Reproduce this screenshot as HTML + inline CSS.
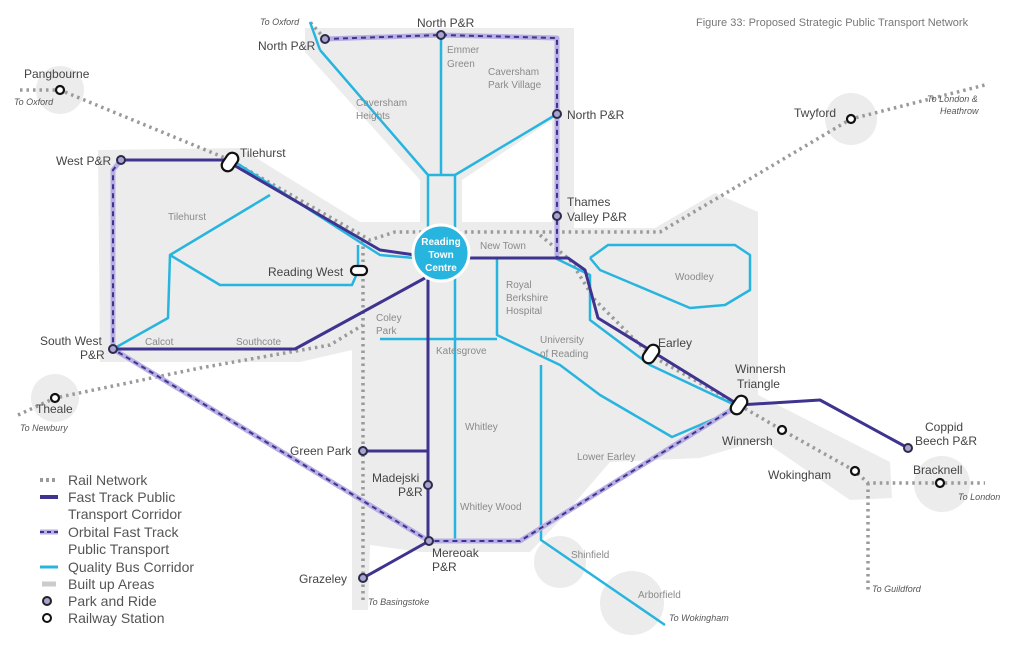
<!DOCTYPE html>
<html><head><meta charset="utf-8"><style>
html,body{margin:0;padding:0;background:#fff;}
svg{display:block;font-family:"Liberation Sans",sans-serif;}
.l{fill:#8a8a8a;font-size:10px;}
.s{fill:#444;font-size:12px;}
.i{fill:#555;font-size:9px;font-style:italic;}
.cy{stroke:#27b5df;stroke-width:2.5;fill:none;stroke-linejoin:round;}
.fp{stroke:#3e338f;stroke-width:3;fill:none;stroke-linejoin:round;}
.ob1{stroke:#b7aee3;stroke-width:5;fill:none;stroke-linejoin:round;}
.ob2{stroke:#3e338f;stroke-width:2;stroke-dasharray:5 4;fill:none;}
.rl{stroke:#9a9a9a;stroke-width:3.5;stroke-dasharray:2.5 4;fill:none;}
.ga{fill:#ececec;}
</style></head><body>
<svg width="1024" height="649" viewBox="0 0 1024 649">
<!-- built up areas -->
<g class="ga">
<path d="M305,28 L574,28 L574,228 L655,228 L715,193 L758,212 L758,395 L890,462 L892,498 L850,500 L762,440 L700,458 L610,462 L560,520 L530,552 L420,552 L370,545 L368,610 L352,610 L352,350 L300,362 L100,362 L98,150 L240,148 L360,222 L420,222 L420,180 L305,52 Z"/>
<path d="M462,180 L462,222 L552,222 L552,120 Z" fill="#fff"/>
<circle cx="60" cy="90" r="24"/>
<circle cx="55" cy="398" r="24"/>
<circle cx="851" cy="119" r="26"/>
<circle cx="560" cy="562" r="26"/>
<circle cx="632" cy="603" r="32"/>
<circle cx="942" cy="484" r="28"/>
</g>
<!-- rail -->
<g class="rl">
<path d="M20,90 L60,90 L230,160 L370,240 L395,232 L660,232 L851,119 L985,85"/>
<path d="M540,235 L570,260 L595,300 L650,355 L739,405 L782,430 L855,471 L868,483 L985,483"/>
<path d="M868,483 L868,590"/>
<path d="M363,240 L363,600"/>
<path d="M18,415 L55,398 L200,368 L330,345 L363,325"/>
<path d="M325,39 L310,22"/>
</g>
<!-- cyan -->
<g class="cy">
<path d="M320,50 L428,175 L428,240"/>
<path d="M441,35 L441,175"/>
<path d="M428,175 L455,175 L557,114"/>
<path d="M455,175 L455,240"/>
<path d="M428,268 L428,540"/>
<path d="M455,268 L455,540"/>
<path d="M235,162 L380,255 L415,258"/>
<path d="M270,195 L170,255 L168,318 L113,349"/>
<path d="M170,255 L220,285 L352,285 L358,271 L358,245"/>
<path d="M468,258 L555,258 L590,275 L590,320 L650,365 L735,405"/>
<path d="M497,258 L497,335 L560,365 L600,395 L672,437 L735,410"/>
<path d="M541,365 L541,540 L665,625"/>
<path d="M380,339 L497,339"/>
<path d="M590,258 L608,245 L735,245 L750,255 L750,290 L725,305 L690,308 L600,270 L590,258"/>
<path d="M310,22 L320,50"/>
</g>
<!-- orbital -->
<path class="ob1" d="M325,39 L441,35 L557,38 L557,258"/>
<path class="ob2" d="M325,39 L441,35 L557,38 L557,258"/>
<path class="ob1" d="M121,160 L113,170 L113,349 L429,541 L520,541 L739,405"/>
<path class="ob2" d="M121,160 L113,170 L113,349 L429,541 L520,541 L739,405"/>
<!-- fast track -->
<g class="fp">
<path d="M121,160 L225,160 L380,250 L415,255"/>
<path d="M468,258 L568,258 L585,270 L598,318 L739,405 L820,400 L908,448"/>
<path d="M113,349 L295,349 L425,278"/>
<path d="M428,280 L428,540"/>
<path d="M363,451 L428,451"/>
<path d="M429,541 L363,578"/>
</g>
<!-- Reading Town Centre -->
<circle cx="441" cy="253" r="28" fill="#27b5df" stroke="#fff" stroke-width="3"/>
<text x="441" y="245" text-anchor="middle" fill="#fff" font-size="10" font-weight="bold">Reading</text>
<text x="441" y="258" text-anchor="middle" fill="#fff" font-size="10" font-weight="bold">Town</text>
<text x="441" y="271" text-anchor="middle" fill="#fff" font-size="10" font-weight="bold">Centre</text>
<!-- P&R nodes -->
<g fill="#a9a3cf" stroke="#2b2b4a" stroke-width="2">
<circle cx="441" cy="35" r="4"/><circle cx="325" cy="39" r="4"/><circle cx="557" cy="114" r="4"/>
<circle cx="557" cy="216" r="4"/><circle cx="121" cy="160" r="4"/><circle cx="113" cy="349" r="4"/>
<circle cx="908" cy="448" r="4"/><circle cx="363" cy="451" r="4"/><circle cx="428" cy="485" r="4"/>
<circle cx="429" cy="541" r="4"/><circle cx="363" cy="578" r="4"/>
</g>
<!-- stations -->
<g fill="#fff" stroke="#111" stroke-width="2.2">
<circle cx="60" cy="90" r="4"/><circle cx="55" cy="398" r="4"/><circle cx="851" cy="119" r="4"/>
<circle cx="782" cy="430" r="4"/><circle cx="855" cy="471" r="4"/><circle cx="940" cy="483" r="4"/>
<rect x="224" y="152" width="12" height="20" rx="6" transform="rotate(35 230 162)"/>
<rect x="351" y="266" width="16" height="9" rx="4.5"/>
<rect x="645" y="344" width="12" height="20" rx="6" transform="rotate(35 651 354)"/>
<rect x="733" y="395" width="12" height="20" rx="6" transform="rotate(35 739 405)"/>
</g>
<!-- labels -->
<text x="696" y="26" fill="#777" font-size="11">Figure 33: Proposed Strategic Public Transport Network</text>
<g class="s">
<text x="417" y="27">North P&amp;R</text>
<text x="258" y="50">North P&amp;R</text>
<text x="567" y="119">North P&amp;R</text>
<text x="567" y="206">Thames</text><text x="567" y="221">Valley P&amp;R</text>
<text x="24" y="78">Pangbourne</text>
<text x="56" y="165">West P&amp;R</text>
<text x="240" y="157">Tilehurst</text>
<text x="268" y="276">Reading West</text>
<text x="40" y="345">South West</text><text x="80" y="359">P&amp;R</text>
<text x="36" y="413">Theale</text>
<text x="794" y="117">Twyford</text>
<text x="658" y="347">Earley</text>
<text x="735" y="373">Winnersh</text><text x="737" y="388">Triangle</text>
<text x="722" y="445">Winnersh</text>
<text x="768" y="479">Wokingham</text>
<text x="913" y="474">Bracknell</text>
<text x="925" y="431">Coppid</text><text x="915" y="445">Beech P&amp;R</text>
<text x="290" y="455">Green Park</text>
<text x="372" y="482">Madejski</text><text x="398" y="496">P&amp;R</text>
<text x="432" y="557">Mereoak</text><text x="432" y="571">P&amp;R</text>
<text x="299" y="583">Grazeley</text>
</g>
<g class="l">
<text x="447" y="53">Emmer</text><text x="447" y="67">Green</text>
<text x="488" y="75">Caversham</text><text x="488" y="88">Park Village</text>
<text x="356" y="106">Caversham</text><text x="356" y="119">Heights</text>
<text x="168" y="220">Tilehurst</text>
<text x="480" y="249">New Town</text>
<text x="506" y="288">Royal</text><text x="506" y="301">Berkshire</text><text x="506" y="314">Hospital</text>
<text x="376" y="321">Coley</text><text x="376" y="334">Park</text>
<text x="540" y="343">University</text><text x="540" y="357">of Reading</text>
<text x="675" y="280">Woodley</text>
<text x="145" y="345">Calcot</text>
<text x="236" y="345">Southcote</text>
<text x="436" y="354">Katesgrove</text>
<text x="465" y="430">Whitley</text>
<text x="577" y="460">Lower Earley</text>
<text x="460" y="510">Whitley Wood</text>
<text x="571" y="558">Shinfield</text>
<text x="638" y="598">Arborfield</text>
</g>
<g class="i">
<text x="260" y="25">To Oxford</text>
<text x="14" y="105">To Oxford</text>
<text x="927" y="102">To London &amp;</text><text x="940" y="114">Heathrow</text>
<text x="20" y="431">To Newbury</text>
<text x="958" y="500">To London</text>
<text x="872" y="592">To Guildford</text>
<text x="368" y="605">To Basingstoke</text>
<text x="669" y="621">To Wokingham</text>
</g>
<!-- legend -->
<g font-size="14" fill="#555">
<line x1="40" y1="480" x2="58" y2="480" stroke="#9a9a9a" stroke-width="4" stroke-dasharray="3 3"/>
<text x="68" y="485">Rail Network</text>
<line x1="40" y1="497" x2="58" y2="497" stroke="#3e338f" stroke-width="4"/>
<text x="68" y="502">Fast Track Public</text><text x="68" y="519">Transport Corridor</text>
<line x1="40" y1="532" x2="58" y2="532" stroke="#b7aee3" stroke-width="5"/>
<line x1="40" y1="532" x2="58" y2="532" stroke="#3e338f" stroke-width="2" stroke-dasharray="4 3"/>
<text x="68" y="537">Orbital Fast Track</text><text x="68" y="554">Public Transport</text>
<line x1="40" y1="567" x2="58" y2="567" stroke="#27b5df" stroke-width="3"/>
<text x="68" y="572">Quality Bus Corridor</text>
<line x1="42" y1="584" x2="56" y2="584" stroke="#ccc" stroke-width="5"/>
<text x="68" y="589">Built up Areas</text>
<circle cx="47" cy="601" r="4" fill="#a9a3cf" stroke="#222" stroke-width="2"/>
<text x="68" y="606">Park and Ride</text>
<circle cx="47" cy="618" r="4" fill="#fff" stroke="#111" stroke-width="2"/>
<text x="68" y="623">Railway Station</text>
</g>
</svg>
</body></html>
